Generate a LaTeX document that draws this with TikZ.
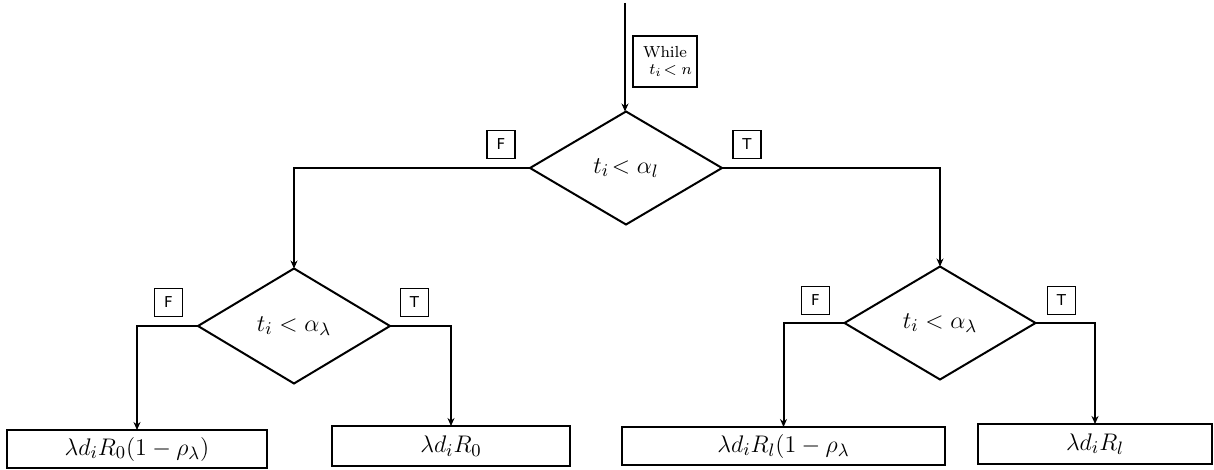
\documentclass[tikz,border=0pt]{standalone}
\usepackage{fontspec}
\newfontfamily\lblfont{DejaVu Sans}
\usetikzlibrary{shapes.geometric,arrows.meta}
\begin{document}
\begin{tikzpicture}[x=0.5pt,y=-0.5pt,
  dec/.style={diamond,draw,line width=1pt,inner sep=0pt,outer sep=0pt,font=\fontsize{12.5}{14}\selectfont},
  res/.style={rectangle,draw,line width=1.1pt,inner sep=0pt,outer sep=0pt,font=\fontsize{12.5}{14}\selectfont},
  tf/.style={rectangle,draw,line width=0.8pt,inner sep=0pt,minimum width=14pt,minimum height=14pt,font=\lblfont\fontsize{7.5}{9}\selectfont},
  wbox/.style={rectangle,draw,line width=1pt,inner sep=0pt,minimum width=32pt,minimum height=25.5pt,align=center,font=\fontsize{8}{9.5}\selectfont},
  conn/.style={line width=1pt,-{Stealth[length=4pt,width=3.5pt]}}]
\useasboundingbox (0,0) rectangle (1214,470);

\coordinate (start) at (625,3);
\node[dec,minimum width=96pt,minimum height=56.5pt] (d1) at (626,168) {$t_i\!<\alpha_l$};
\node[dec,minimum width=96pt,minimum height=57.5pt] (d2) at (294,326) {$t_i<\alpha_\lambda$};
\node[dec,minimum width=95.5pt,minimum height=56.5pt] (d3) at (940,323) {$t_i<\alpha_\lambda$};

\node[res,minimum width=130pt,minimum height=19pt] (b1) at (137,449) {$\lambda d_iR_0(1-\rho_\lambda)$};
\node[res,minimum width=119pt,minimum height=20pt] (b2) at (451,446) {$\lambda d_iR_0$};
\node[res,minimum width=161.5pt,minimum height=19pt] (b3) at (783.5,446) {$\lambda d_iR_l(1-\rho_\lambda$};
\node[res,minimum width=117pt,minimum height=20pt] (b4) at (1095,444) {$\lambda d_iR_l$};

\node[wbox] (w) at (665,61.5) {While\\[-1pt]\ \ $t_i\!<n$};

\node[tf] (f1) at (501,144.5) {F};
\node[tf] (t1) at (747,144.5) {T};
\node[tf] (f2) at (168.5,302.5) {F};
\node[tf] (t2) at (414.5,302.5) {T};
\node[tf] (f3) at (815.5,300.5) {F};
\node[tf] (t3) at (1061.5,300.5) {T};

\draw[conn] (start) -- (start |- d1.north);
\draw[conn] (d1.west) -| (d2.north);
\draw[conn] (d1.east) -| (d3.north);
\draw[conn] (d2.west) -| (b1.north);
\draw[conn] (d2.east) -| (b2.north);
\draw[conn] (d3.west) -| (b3.north);
\draw[conn] (d3.east) -| (b4.north);
\end{tikzpicture}
\end{document}
